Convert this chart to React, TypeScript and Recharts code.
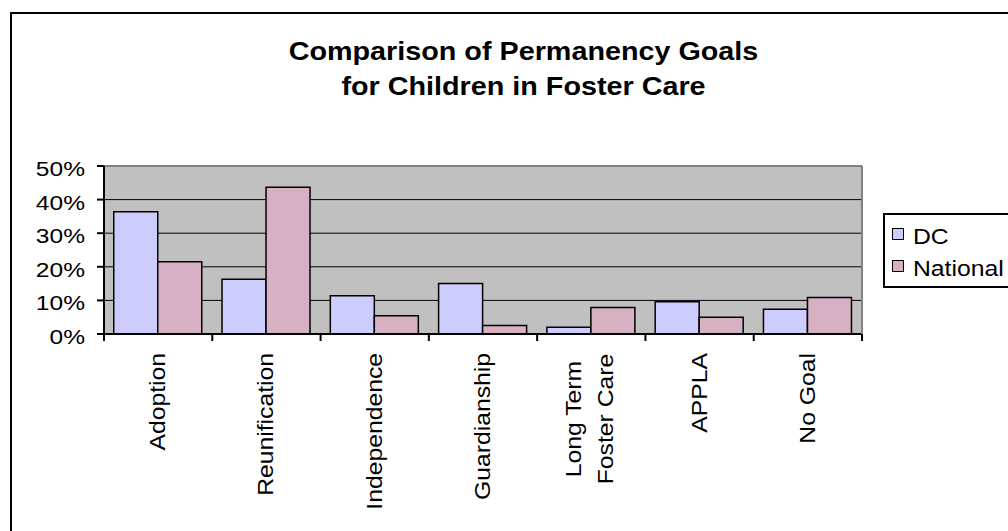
import React from "react";
import { Bar, BarChart, CartesianGrid, ReferenceLine, XAxis, YAxis } from "recharts";

const categories = [
  "Adoption",
  "Reunification",
  "Independence",
  "Guardianship",
  "Long Term\nFoster Care",
  "APPLA",
  "No Goal"
];
const dcValues = [0.364, 0.163, 0.114, 0.15, 0.02, 0.096, 0.074];
const nationalValues = [0.215, 0.437, 0.054, 0.025, 0.079, 0.05, 0.109];
const yTicks = [0, 0.1, 0.2, 0.3, 0.4, 0.5];
const titleLines = ["Comparison of Permanency Goals", "for Children in Foster Care"];

const data = categories.map((name, i) => ({
  name,
  dc: dcValues[i],
  national: nationalValues[i]
}));

const FONT = "'Liberation Sans', Arial, sans-serif";
const W = 1008;
const H = 531;
const margin = { top: 166, right: 145, bottom: 0, left: 0 };
const yAxisWidth = 104;
const xAxisHeight = 197;
const bandWidth = (W - yAxisWidth - margin.right - 1) / categories.length;

const DC_COLOR = "#ccccff";
const NAT_COLOR = "#d7b0c4";

function YTick({ x, y, payload }: any) {
  return (
    <text
      transform={`translate(${x},${y + 10}) scale(1.17,1)`}
      textAnchor="end"
      fontSize={21}
      fontFamily={FONT}
      fill="#000"
    >
      {`${Math.round(payload.value * 100)}%`}
    </text>
  );
}

function XTick({ x, y, payload, index }: any) {
  const lines = String(payload.value).split("\n");
  const left = x - bandWidth / 2;
  const offsets = lines.length === 1 ? [7] : [-10, 21.8];
  const top = y + 19;
  const sx = 1.15;
  return (
    <g>
      <line x1={left} x2={left} y1={y} y2={y + 7} stroke="#000" strokeWidth={2} />
      {index === categories.length - 1 && (
        <line x1={left + bandWidth} x2={left + bandWidth} y1={y} y2={y + 7} stroke="#000" strokeWidth={2} />
      )}
      {lines.map((line, i) => (
        <text
          key={i}
          transform={`translate(${x + offsets[i]},${top}) rotate(-90) scale(${sx},1)`}
          textAnchor={lines.length === 1 ? "end" : "middle"}
          dx={lines.length === 1 ? 0 : -66 / sx}
          fontSize={21.5}
          fontFamily={FONT}
          fill="#000"
        >
          {line}
        </text>
      ))}
    </g>
  );
}

function LegendBox() {
  const items = [
    { label: "DC", color: DC_COLOR },
    { label: "National", color: NAT_COLOR }
  ];
  return (
    <div
      style={{
        position: "absolute",
        left: 883,
        top: 213,
        width: 140,
        height: 75,
        border: "2px solid #000",
        background: "#fff",
        boxSizing: "border-box",
        paddingTop: 6,
        paddingLeft: 7
      }}
    >
      {items.map((item) => (
        <div key={item.label} style={{ display: "flex", alignItems: "center", height: 32 }}>
          <span
            style={{
              display: "inline-block",
              width: 10,
              height: 10,
              background: item.color,
              border: "1.5px solid #000",
              marginRight: 9,
              marginTop: -6
            }}
          />
          <span
            style={{
              display: "inline-block",
              fontFamily: FONT,
              fontSize: 21.5,
              color: "#000",
              transform: "scale(1.15,1)",
              transformOrigin: "left center",
              whiteSpace: "nowrap"
            }}
          >
            {item.label}
          </span>
        </div>
      ))}
    </div>
  );
}

export default function App() {
  return (
    <div
      style={{
        position: "absolute",
        left: 0,
        top: 0,
        width: W,
        height: H,
        overflow: "hidden",
        background: "#fff"
      }}
    >
      <div
        style={{
          position: "absolute",
          left: 10,
          top: 12,
          width: 1100,
          height: 600,
          border: "2px solid #000"
        }}
      />
      <svg width={W} height={H} style={{ position: "absolute", left: 0, top: 0 }}>
        {titleLines.map((line, i) => (
          <text
            key={i}
            transform={`translate(523.5,${60 + i * 35}) scale(1.15,1)`}
            textAnchor="middle"
            fontSize={25}
            fontWeight="bold"
            fontFamily={FONT}
            fill="#000"
          >
            {line}
          </text>
        ))}
      </svg>
      <div style={{ position: "absolute", left: 0, top: 0 }}>
        <BarChart
          width={W}
          height={H}
          data={data}
          margin={margin}
          barCategoryGap="9%"
          barGap={0}
        >
          <CartesianGrid vertical={false} stroke="#000" fill="#c0c0c0" fillOpacity={1} />
          <XAxis
            dataKey="name"
            interval={0}
            height={xAxisHeight}
            tickLine={false}
            tickSize={0}
            tickMargin={0}
            axisLine={{ stroke: "#000", strokeWidth: 2 }}
            tick={<XTick />}
          />
          <YAxis
            width={yAxisWidth}
            domain={[0, 0.5]}
            ticks={yTicks}
            interval={0}
            tickSize={7}
            tickMargin={12}
            tickLine={{ stroke: "#000", strokeWidth: 2 }}
            axisLine={{ stroke: "#000", strokeWidth: 2 }}
            tick={<YTick />}
          />
          <YAxis
            yAxisId={1}
            orientation="right"
            width={1}
            domain={[0, 0.5]}
            tick={false}
            tickLine={false}
            axisLine={{ stroke: "#808080", strokeWidth: 2 }}
          />
          <ReferenceLine y={0.5} stroke="#808080" strokeWidth={2} />
          <Bar
            dataKey="dc"
            name="DC"
            fill={DC_COLOR}
            stroke="#000"
            strokeWidth={1.5}
            isAnimationActive={false}
          />
          <Bar
            dataKey="national"
            name="National"
            fill={NAT_COLOR}
            stroke="#000"
            strokeWidth={1.5}
            isAnimationActive={false}
          />
        </BarChart>
      </div>
      <LegendBox />
    </div>
  );
}
